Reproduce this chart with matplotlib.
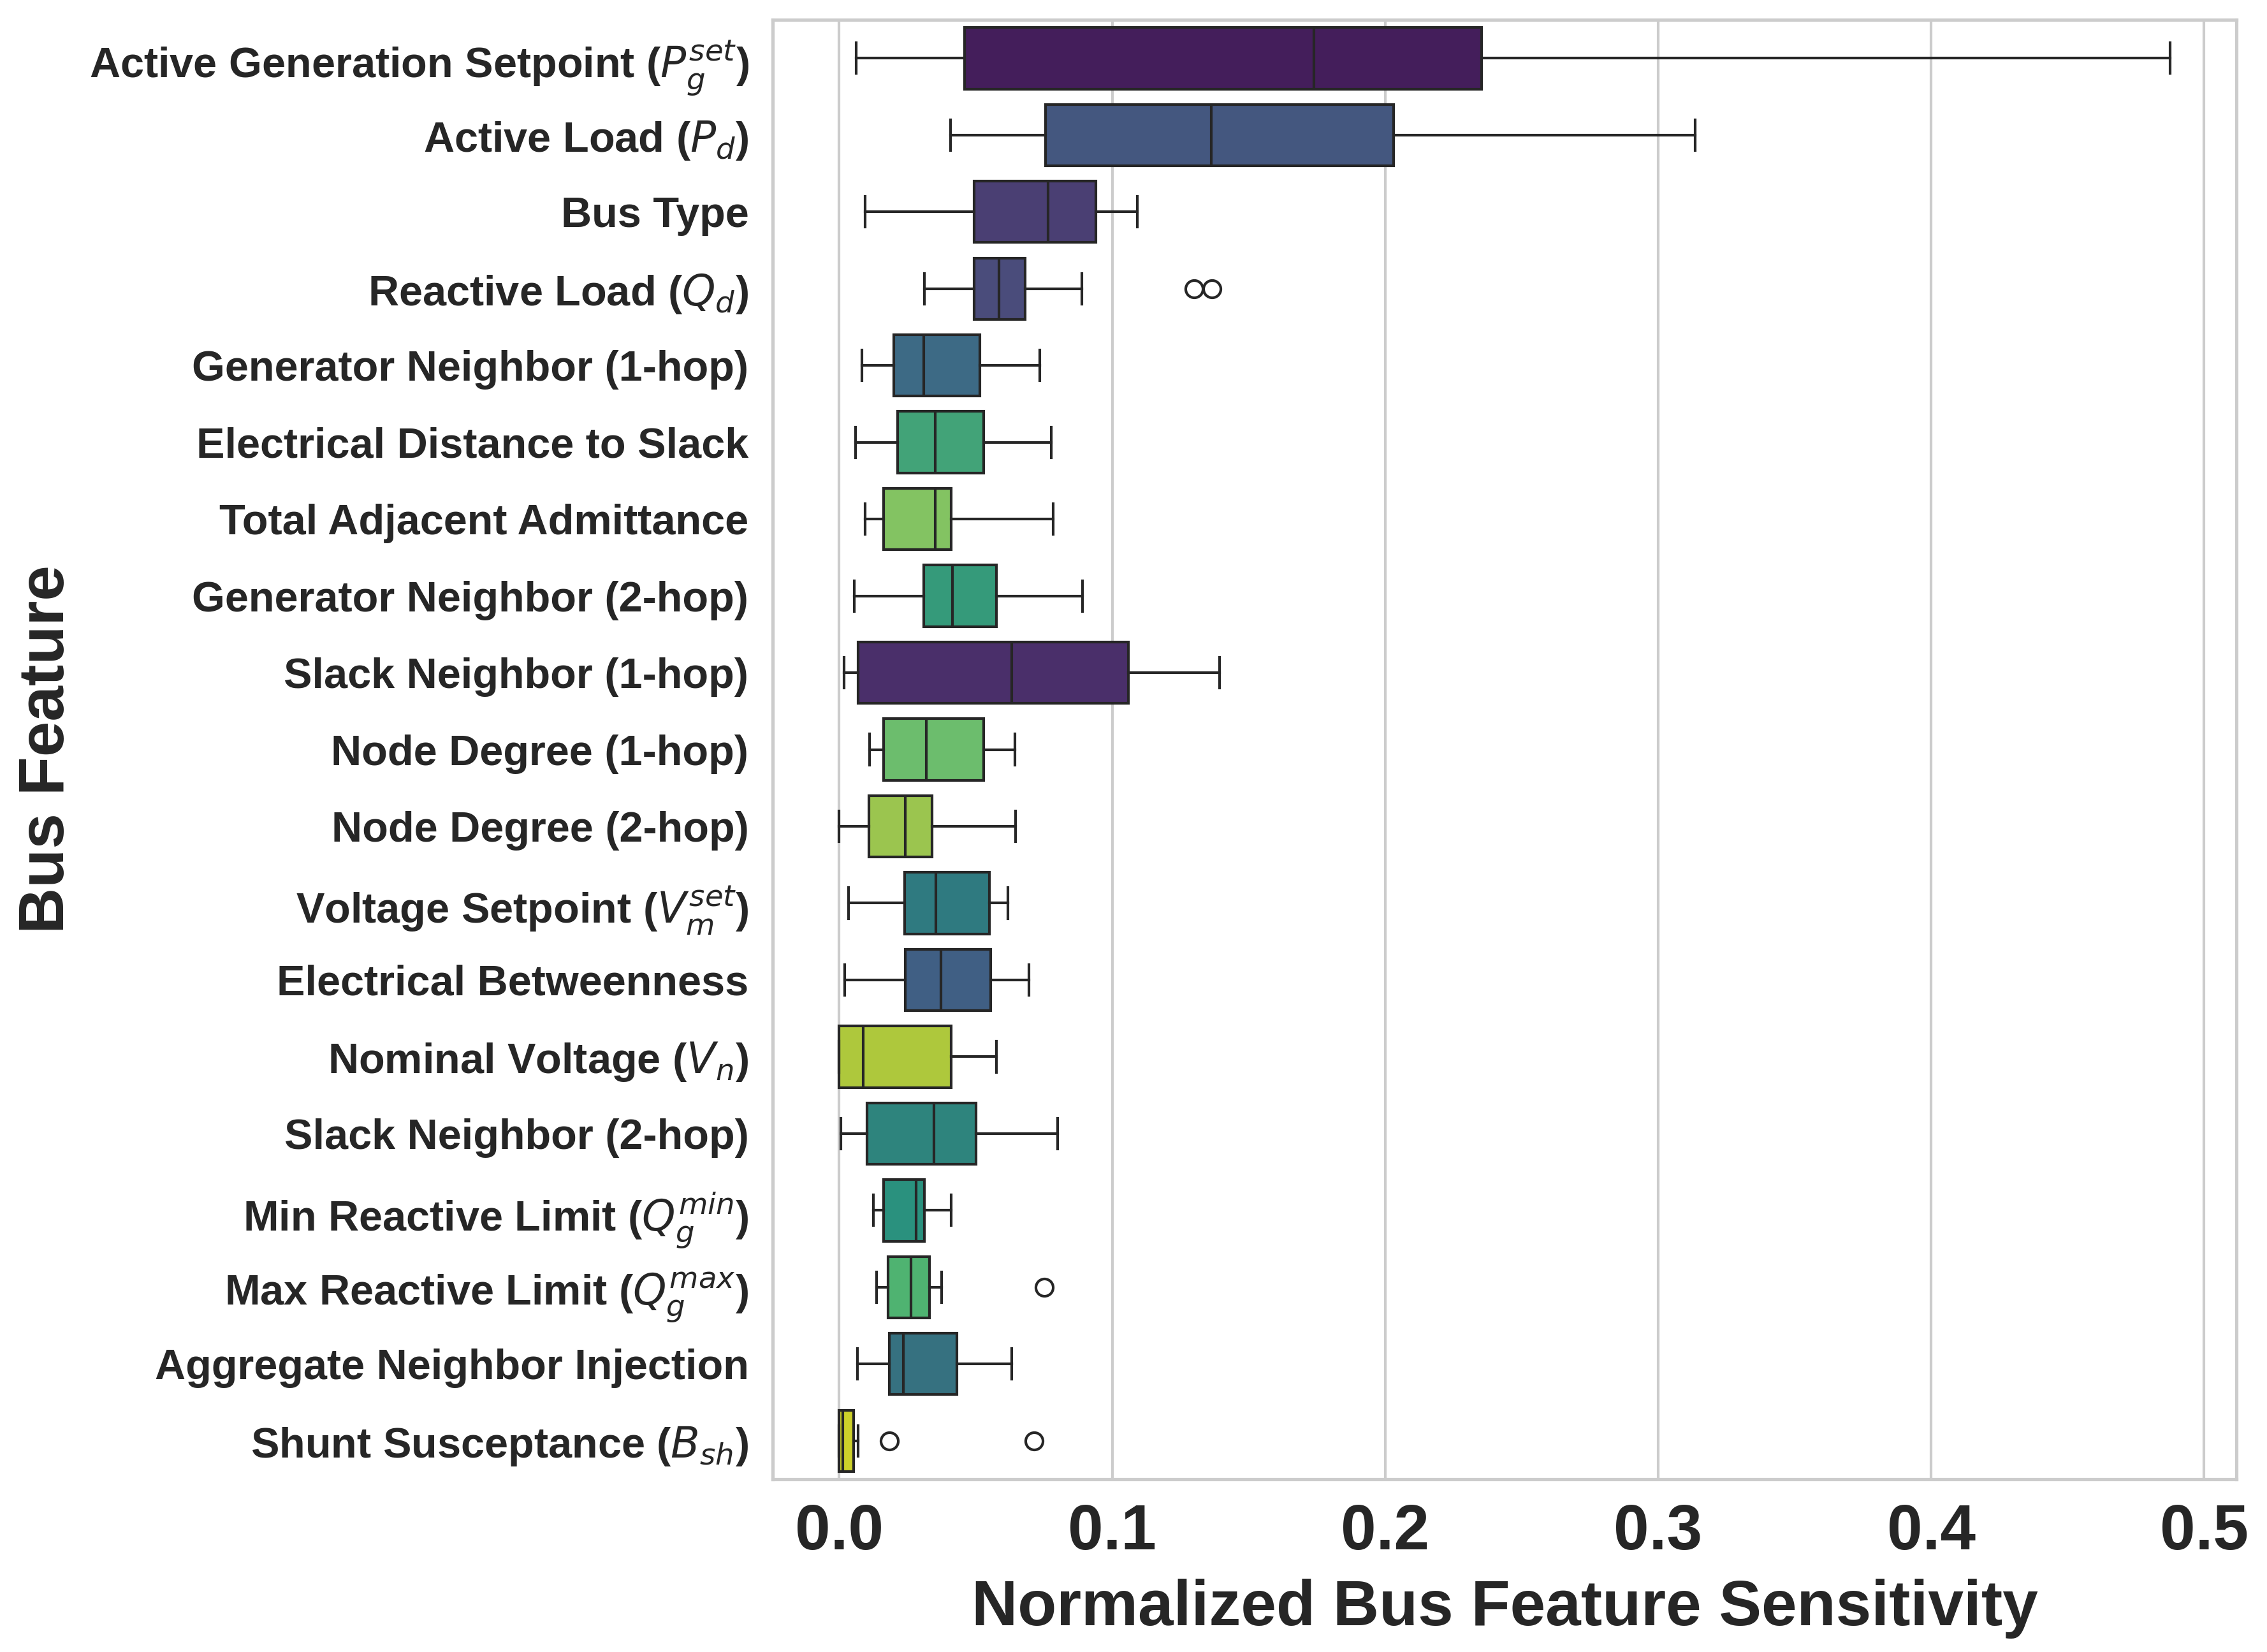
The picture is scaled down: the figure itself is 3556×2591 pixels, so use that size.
import matplotlib
matplotlib.use("Agg")
import matplotlib.pyplot as plt

plt.rcParams['font.family'] = ['Liberation Sans', 'DejaVu Sans']
plt.rcParams['mathtext.fontset'] = 'dejavusans'

# feature names, top to bottom
features = [
    r"Active Generation Setpoint ($P_g^{set}$)",
    r"Active Load ($P_d$)",
    "Bus Type",
    r"Reactive Load ($Q_d$)",
    "Generator Neighbor (1-hop)",
    "Electrical Distance to Slack",
    "Total Adjacent Admittance",
    "Generator Neighbor (2-hop)",
    "Slack Neighbor (1-hop)",
    "Node Degree (1-hop)",
    "Node Degree (2-hop)",
    r"Voltage Setpoint ($V_m^{set}$)",
    "Electrical Betweenness",
    r"Nominal Voltage ($V_n$)",
    "Slack Neighbor (2-hop)",
    r"Min Reactive Limit ($Q_g^{min}$)",
    r"Max Reactive Limit ($Q_g^{max}$)",
    "Aggregate Neighbor Injection",
    r"Shunt Susceptance ($B_{sh}$)",
]

# box statistics
whislo = [0.0063, 0.0407, 0.0095, 0.0313, 0.0084, 0.0060, 0.0095, 0.0056, 0.0018, 0.0112,
          0.0000, 0.0035, 0.0021, 0.0000, 0.0007, 0.0126, 0.0137, 0.0067, 0.0000]
q1 = [0.0460, 0.0755, 0.0495, 0.0495, 0.0200, 0.0214, 0.0162, 0.0309, 0.0070, 0.0162,
      0.0109, 0.0239, 0.0242, 0.0000, 0.0102, 0.0162, 0.0179, 0.0183, 0.0000]
med = [0.1738, 0.1362, 0.0765, 0.0586, 0.0309, 0.0351, 0.0351, 0.0414, 0.0632, 0.0320,
       0.0242, 0.0355, 0.0372, 0.0088, 0.0348, 0.0281, 0.0263, 0.0235, 0.0014]
q3 = [0.2353, 0.2030, 0.0941, 0.0681, 0.0516, 0.0530, 0.0411, 0.0576, 0.1060, 0.0530,
      0.0341, 0.0551, 0.0555, 0.0411, 0.0502, 0.0313, 0.0330, 0.0432, 0.0053]
whishi = [0.4874, 0.3136, 0.1092, 0.0888, 0.0734, 0.0776, 0.0783, 0.0892, 0.1394, 0.0643,
          0.0646, 0.0618, 0.0695, 0.0576, 0.0800, 0.0411, 0.0376, 0.0632, 0.0070]
fliers = [[], [], [], [0.1300, 0.1366], [], [], [], [], [], [],
          [], [], [], [], [], [], [0.0751], [], [0.0183, 0.0713]]

box_colors = ["#441e5b", "#44577f", "#4a3f73", "#4a4c7b", "#3d6a85", "#42a378", "#83c362",
              "#359a7a", "#4a2f6a", "#6cbd6d", "#9bc54f", "#2f7a80", "#405f84", "#aec83c",
              "#2e847d", "#2a917e", "#4fb371", "#367180", "#cdd12a"]

stats = []
for i in range(len(features)):
    stats.append({
        "whislo": whislo[i], "q1": q1[i], "med": med[i], "q3": q3[i],
        "whishi": whishi[i], "fliers": fliers[i], "label": features[i],
    })

line_c = "#262626"
lw = 1.0

fig, ax = plt.subplots(figsize=(3556 / 300, 2591 / 300), dpi=300)
fig.subplots_adjust(left=0.3408, right=0.9865, top=0.988, bottom=0.1046)

bp = ax.bxp(stats, positions=range(len(features)), widths=0.8, orientation='horizontal',
            patch_artist=True,
            boxprops=dict(edgecolor=line_c, linewidth=lw),
            medianprops=dict(color=line_c, linewidth=lw),
            whiskerprops=dict(color=line_c, linewidth=lw),
            capprops=dict(color=line_c, linewidth=lw),
            flierprops=dict(marker='o', markerfacecolor='none', markeredgecolor=line_c,
                            markersize=6.5, markeredgewidth=lw))
for patch, c in zip(bp['boxes'], box_colors):
    patch.set_facecolor(c)

ax.set_ylim(len(features) - 0.5, -0.5)
ax.set_xlim(-0.0244, 0.5118)
ax.set_xticks([0.0, 0.1, 0.2, 0.3, 0.4, 0.5])
ax.set_xticklabels(["0.0", "0.1", "0.2", "0.3", "0.4", "0.5"])

ax.grid(axis='x', color='#cccccc', linewidth=1.0)
ax.grid(axis='y', visible=False)
ax.set_axisbelow(True)
for s in ax.spines.values():
    s.set_color('#cccccc')
    s.set_linewidth(1.25)

ax.tick_params(axis='both', length=0, colors='#262626')
ax.tick_params(axis='y', pad=9, labelsize=16)
ax.tick_params(axis='x', pad=9, labelsize=24)
for lab in ax.get_yticklabels() + ax.get_xticklabels():
    lab.set_fontweight('bold')

ax.set_xlabel("Normalized Bus Feature Sensitivity", fontsize=24, fontweight='bold',
              color='#262626', labelpad=6)
ax.set_ylabel("Bus Feature", fontsize=24, fontweight='bold', color='#262626', labelpad=4.5)

fig.savefig("out.png", dpi=300)
